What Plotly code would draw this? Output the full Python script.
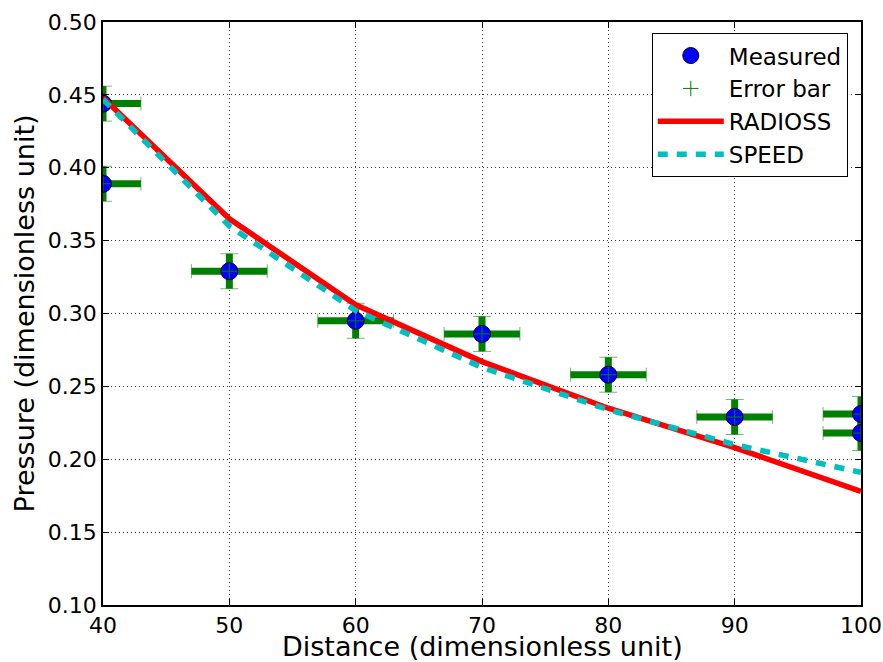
import plotly.graph_objects as go

# Measured data
meas_x = [40, 40, 50, 60, 70, 80, 90, 100, 100]
meas_y = [0.444, 0.389, 0.329, 0.295, 0.286, 0.258, 0.229, 0.231, 0.218]
err_x = [3, 3, 3, 3, 3, 3, 3, 3, 3]
err_y = [0.012, 0.012, 0.012, 0.012, 0.012, 0.012, 0.012, 0.012, 0.012]

# Simulation curves
sim_x = [40, 50, 60, 70, 80, 90, 100]
radioss_y = [0.448, 0.365, 0.306, 0.267, 0.235, 0.208, 0.178]
speed_y = [0.447, 0.360, 0.302, 0.263, 0.234, 0.210, 0.191]

x_ticks = [40, 50, 60, 70, 80, 90, 100]
y_ticks = [0.10, 0.15, 0.20, 0.25, 0.30, 0.35, 0.40, 0.45, 0.50]

x_title = "Distance (dimensionless unit)"
y_title = "Pressure (dimensionless unit)"

FONT = "DejaVu Sans"
GREEN = "#008000"

fig = go.Figure()

# thick error bars without caps
fig.add_trace(go.Scatter(
    x=meas_x, y=meas_y, mode="markers", marker=dict(size=1, opacity=0),
    error_x=dict(type="data", array=err_x, thickness=7, width=0, color=GREEN),
    error_y=dict(type="data", array=err_y, thickness=7, width=0, color=GREEN),
    showlegend=False, hoverinfo="skip"))
# thin caps
fig.add_trace(go.Scatter(
    x=meas_x, y=meas_y, mode="markers", marker=dict(size=1, opacity=0),
    error_x=dict(type="data", array=err_x, thickness=1, width=7, color="rgba(0,128,0,0.55)"),
    error_y=dict(type="data", array=err_y, thickness=1, width=9, color="rgba(0,128,0,0.55)"),
    showlegend=False, hoverinfo="skip"))

fig.add_trace(go.Scatter(
    x=meas_x, y=meas_y, mode="markers", name="Measured",
    marker=dict(symbol="circle", size=17, color="#0000ff",
                line=dict(color="#000033", width=1))))

fig.add_trace(go.Scatter(
    x=meas_x, y=meas_y, mode="markers", name="Error bar",
    marker=dict(symbol="cross-thin", size=11, color=GREEN,
                line=dict(color=GREEN, width=1))))

fig.add_trace(go.Scatter(
    x=sim_x, y=radioss_y, mode="lines", name="RADIOSS",
    line=dict(color="#ff0000", width=5.5)))

fig.add_trace(go.Scatter(
    x=sim_x, y=speed_y, mode="lines", name="SPEED",
    line=dict(color="#00bfbf", width=5.5, dash="10px,9px")))

axis_common = dict(
    showline=True, linecolor="black", linewidth=1.5, mirror="allticks",
    ticks="inside", ticklen=6, tickwidth=1, tickcolor="black",
    showgrid=True, gridcolor="rgba(0,0,0,0.75)", gridwidth=1, griddash="1px,3px",
    zeroline=False, tickfont=dict(family=FONT, size=22, color="black"),
    automargin=False,
)

fig.update_xaxes(range=[40, 100], tickvals=x_ticks,
                 ticktext=[str(v) for v in x_ticks], **axis_common)
fig.update_yaxes(range=[0.10, 0.50], tickvals=y_ticks,
                 ticktext=[f"{v:.2f}" for v in y_ticks], **axis_common)

fig.add_annotation(text=x_title, xref="paper", yref="paper", x=0.5, y=-0.071,
                   xanchor="center", yanchor="middle", showarrow=False,
                   font=dict(family=FONT, size=27, color="black"))
fig.add_annotation(text=y_title, xref="paper", yref="paper", x=-0.103, y=0.5,
                   xanchor="center", yanchor="middle", showarrow=False, textangle=-90,
                   font=dict(family=FONT, size=27, color="black"))

fig.update_layout(
    width=883, height=662,
    margin=dict(l=103, r=22, t=22, b=57),
    paper_bgcolor="white", plot_bgcolor="white",
    font=dict(family=FONT, color="black"),
    legend=dict(x=0.724, y=0.981, xanchor="left", yanchor="top",
                bgcolor="white", bordercolor="black", borderwidth=1,
                font=dict(family=FONT, size=23, color="black"),
                itemwidth=66, tracegroupgap=0),
)

fig.write_html("out.html", config={"displayModeBar": False},
               post_script="document.body.style.margin='0';document.body.style.overflow='hidden';")
